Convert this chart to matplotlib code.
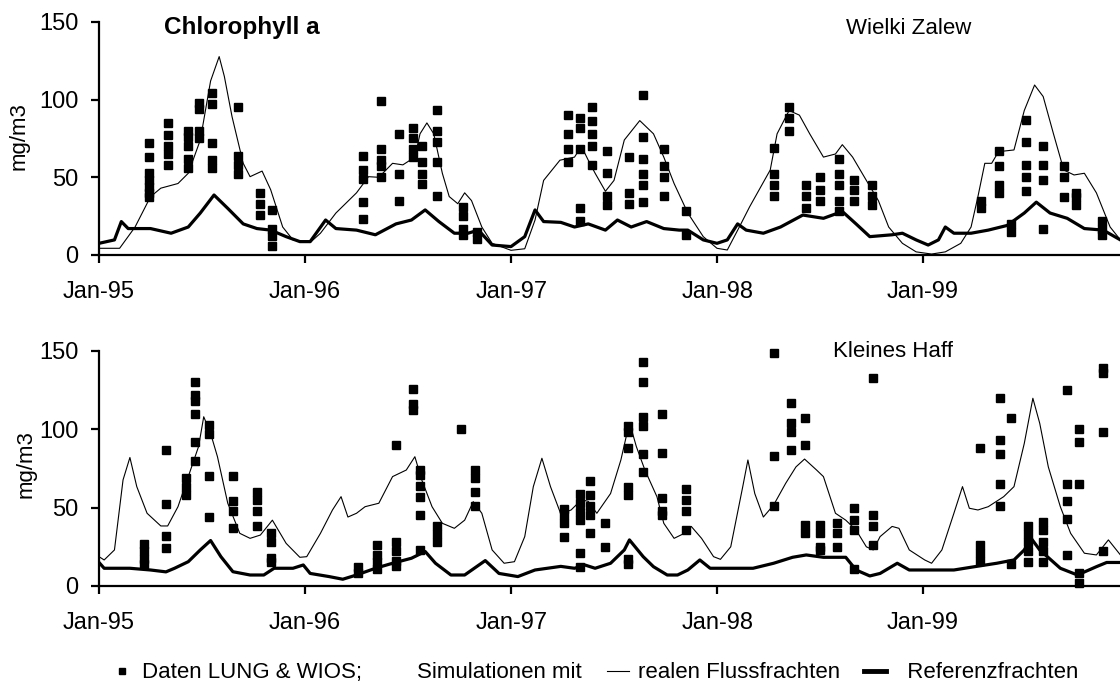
import datetime as dt
import numpy as np
import matplotlib
matplotlib.use('Agg')
import matplotlib.pyplot as plt
import matplotlib.dates as mdates
from matplotlib.lines import Line2D

plt.rcParams['font.family'] = ['Liberation Sans', 'DejaVu Sans']

# positions are months after 1 Jan 1995, values in mg/m3

# --- Wielki Zalew (top) ---
wz_real_m = [0, 1.2, 2.1, 3.0, 3.6, 4.6, 5.2, 5.9, 6.5, 7.0, 7.3, 7.75, 8.4, 8.8, 9.5, 10.0,
             10.7, 11.3, 12.3, 12.9, 13.8, 15.0, 15.7, 16.3, 17.1, 17.7, 18.4, 18.7, 19.1, 19.5,
             20.0, 20.4, 20.9, 21.3, 21.7, 22.3, 22.9, 24.0, 24.8, 25.4, 25.9, 26.85, 27.7, 28.1,
             28.5, 28.9, 29.5, 30.0, 30.6, 31.5, 32.3, 32.9, 33.5, 34.3, 35.2, 36.0, 36.6, 37.3,
             37.9, 39.1, 39.5, 40.2, 40.8, 41.4, 42.2, 42.9, 43.3, 43.9, 44.7, 45.4, 46.0, 46.8,
             47.6, 48.5, 49.3, 50.2, 50.8, 51.2, 51.6, 52.0, 52.4, 53.3, 53.9, 54.5, 55.0, 55.6,
             56.2, 56.8, 57.4, 58.1, 58.9, 59.5]
wz_real_v = [4.3, 4.3, 18, 37.5, 43, 46, 52.6, 74, 112, 127.7, 115, 89, 59, 50.4, 54, 42,
             18, 9.7, 8, 14, 27, 40, 50.4, 50, 59, 58, 63, 78, 85, 78,
             52.6, 37.6, 33, 40, 35, 18, 7.5, 3, 4, 22.5, 48, 61, 63, 70,
             61, 52.6, 41, 48, 74, 86.5, 78, 63, 46, 27, 11.8, 4.3, 3.2, 18,
             31, 54.7, 78, 93, 90, 78, 63, 65, 71, 63, 48, 35, 18, 7.5,
             2, 0.6, 2, 7.5, 18, 37.6, 59, 59, 66.5, 67.6, 93, 109.4, 102, 78,
             54.7, 51.5, 52.6, 40, 18, 9.7]

wz_ref_m = [0, 0.9, 1.3, 1.7, 3.0, 4.2, 5.2, 5.9, 6.7, 7.5, 8.4, 9.2, 10.0, 10.9, 11.7, 12.3,
            13.2, 13.8, 15.0, 16.1, 17.3, 18.2, 19.0, 19.8, 20.7, 21.5, 22.1, 22.9, 24.0, 24.8,
            25.4, 25.9, 26.9, 27.7, 28.5, 29.5, 30.2, 31.0, 31.9, 32.9, 33.8, 34.3, 35.2, 36.0,
            36.6, 37.2, 37.7, 38.7, 39.7, 41.0, 42.2, 43.3, 44.1, 44.9, 46.2, 46.8, 47.6, 48.3,
            48.9, 49.3, 49.8, 50.8, 51.8, 52.9, 53.9, 54.6, 55.4, 56.4, 57.4, 58.5, 59.5]
wz_ref_v = [7.5, 9.7, 21.5, 17, 17, 14, 18, 27, 38.6, 30, 20, 17, 16, 11.8, 8.6, 8.6,
            22.5, 17, 16, 13, 20, 22.5, 29, 21.5, 14, 14, 16, 6.4, 5.4, 11.8,
            29, 21.5, 21, 18, 20, 16, 22.5, 18, 21.5, 17, 16, 16, 9.7, 7.5,
            9.7, 20, 16, 14, 18, 25.7, 23.6, 28, 20, 11.8, 13, 14, 9.7, 6.4,
            9.7, 18, 14, 14, 16, 19, 27, 34, 27, 23.6, 17, 16, 9.7]

wz_obs_m = [2.9, 4.0, 5.2, 5.8, 6.6, 8.1, 9.4, 10.1, 15.4, 16.4, 17.5, 18.3, 18.8, 19.7, 21.2, 22.0,
            27.3, 28.0, 28.7, 29.6, 30.9, 31.7, 32.9, 34.2, 39.3, 40.2, 41.2, 42.0, 43.1, 44.0, 45.0,
            51.4, 52.4, 53.1, 54.0, 55.0, 56.2, 56.9, 58.4]
wz_obs_v = [[72, 63, 53, 48, 44, 40, 37], [85, 77, 70, 65, 58], [80, 76, 70, 62, 56],
            [98, 94, 80, 75], [104, 97, 72, 61, 56], [95, 64, 58, 52], [40, 33, 26],
            [29, 17, 12, 6], [64, 55, 49, 34, 23], [99, 68, 61, 57, 50], [78, 52, 35],
            [82, 75, 68, 63], [70, 60, 52, 46], [93, 80, 73, 60, 38], [31, 25, 17, 13], [15, 10],
            [90, 78, 68, 60], [88, 82, 68, 30, 22], [95, 86, 78, 70, 58], [67, 53, 38, 32],
            [63, 40, 33], [103, 76, 62, 52, 45, 34], [68, 57, 50, 38], [28, 13],
            [69, 52, 45, 38], [95, 88, 80], [45, 38, 30], [50, 42, 35], [62, 52, 45, 35, 28],
            [48, 42, 35], [45, 38, 32], [35, 30], [67, 57, 45, 40], [20, 15],
            [87, 73, 58, 50, 41], [70, 58, 48, 17], [57, 50, 37], [40, 37, 32], [22, 17, 13]]

# --- Kleines Haff (bottom) ---
kh_real_m = [0, 0.3, 0.9, 1.4, 1.8, 2.2, 2.8, 3.6, 4.0, 4.6, 5.2, 5.8, 6.1, 6.5, 6.9, 7.5,
             8.2, 8.8, 9.4, 10.1, 10.9, 11.7, 12.1, 12.9, 13.6, 14.1, 14.5, 15.0, 15.5, 16.3,
             17.1, 17.9, 18.4, 18.8, 19.4, 20.0, 20.7, 21.3, 21.8, 22.3, 22.9, 23.6, 24.2, 24.8,
             25.3, 25.8, 26.3, 26.9, 27.5, 28.1, 28.5, 29.0, 29.8, 30.4, 30.8, 31.0, 31.3, 31.8,
             32.5, 32.9, 33.5, 34.1, 34.5, 35.1, 35.8, 36.2, 36.8, 37.5, 37.8, 38.2, 38.7, 39.3,
             40.0, 40.6, 41.1, 41.8, 42.2, 42.9, 43.5, 44.1, 44.7, 45.1, 45.5, 46.2, 46.6, 47.2,
             48.1, 48.5, 49.1, 49.8, 50.3, 50.7, 51.2, 51.8, 52.7, 53.3, 53.9, 54.4, 54.8, 55.3,
             56.0, 56.6, 57.4, 58.1, 58.8, 59.5]
kh_real_v = [18.7, 16.6, 23, 67.7, 82, 63.4, 46.4, 38.3, 38.3, 50.6, 69.8, 89, 108, 97.4, 82.5, 52.8,
             33.6, 30.4, 32.5, 42, 27.2, 18.3, 18.7, 33.6, 48.5, 57, 44, 46.4, 50.6, 52.8,
             69.8, 74, 82.5, 67.7, 50.6, 40, 36.8, 42, 53.8, 46.4, 23, 14.5, 15.5, 31.5,
             63.4, 81.5, 63.4, 46, 48.5, 55, 54, 46.4, 59, 80.4, 99.6, 100.6, 89, 74,
             57, 40, 30.4, 33.6, 38, 30.4, 18.7, 17, 25, 63.4, 80.4, 59, 44, 51.7,
             65.5, 76, 81, 74, 69.8, 46.4, 42, 35.7, 25, 23, 31.5, 38, 36.8, 23,
             16.6, 14.5, 23, 46.4, 63.4, 49.6, 48.5, 50.6, 57, 63.4, 91, 119.8, 103.8, 76,
             50.6, 33.6, 20.9, 19.8, 29.4, 19.8]

kh_ref_m = [0, 0.3, 1.8, 3.0, 3.9, 4.4, 5.2, 5.9, 6.5, 7.1, 7.8, 8.8, 9.6, 10.2, 11.3, 11.9,
            12.3, 13.4, 14.2, 15.0, 16.1, 17.1, 18.2, 19.0, 19.6, 20.5, 21.3, 22.5, 23.3, 24.4,
            25.4, 26.9, 27.7, 28.3, 28.9, 29.8, 30.6, 30.9, 31.7, 32.3, 33.1, 33.7, 34.3, 35.0,
            35.6, 36.8, 38.1, 39.3, 40.4, 41.2, 42.2, 43.5, 44.1, 44.9, 45.5, 46.5, 47.2, 48.5,
            49.8, 51.0, 52.3, 53.3, 53.9, 54.3, 54.8, 56.0, 57.0, 58.1, 58.7, 59.5]
kh_ref_v = [15, 11.3, 11.3, 10.2, 9, 11.3, 15.5, 23, 29, 18.7, 9.1, 7, 7, 11.3, 11.3, 13.4,
            8, 6, 4.3, 7, 11.3, 14.5, 17.7, 22, 14.5, 7, 7, 16.2, 8, 6,
            10.2, 12.5, 11.3, 13.4, 11.3, 14.5, 23, 29.4, 18.7, 12.3, 7, 7, 10.2, 16.6,
            11.3, 11.3, 11.3, 14.5, 18.3, 19.8, 18.3, 18.3, 10.2, 6.4, 8, 14.5, 10.2, 10.2,
            10.2, 12.3, 14.5, 16.6, 23, 30.4, 23, 11.3, 7, 12.3, 15, 15]

kh_obs_m = [2.65, 3.9, 5.05, 5.6, 6.4, 7.8, 9.2, 10.0, 15.1, 16.2, 17.3, 18.3, 18.7, 19.7, 21.1, 21.9,
            27.1, 28.0, 28.6, 29.5, 30.8, 31.7, 32.8, 34.2, 39.3, 40.3, 41.1, 42.0, 43.0, 44.0, 45.1,
            51.3, 52.5, 53.1, 54.1, 55.0, 56.4, 57.1, 58.5]
kh_obs_v = [[27, 22, 17, 14], [87, 52, 32, 24], [69, 63, 58], [130, 122, 118, 110, 92, 80],
            [103, 97, 70, 44], [70, 54, 48, 37], [60, 55, 48, 38], [34, 28, 18, 15], [12, 8],
            [26, 20, 15, 11], [90, 28, 22, 16, 13], [126, 116, 112], [74, 71, 64, 57, 45, 23],
            [38, 33, 28], [100], [74, 69, 60, 51],
            [49, 45, 40, 31], [59, 53, 47, 42, 21, 12], [67, 58, 51, 45, 34], [40, 25],
            [102, 98, 88, 63, 58, 17, 14], [143, 130, 108, 102, 84, 73], [110, 85, 56, 48, 45],
            [62, 55, 48, 36], [149, 83, 51], [117, 104, 98, 87], [107, 90, 39, 34],
            [39, 34, 25, 23], [40, 34, 25], [50, 42, 36, 11], [133, 45, 38, 26],
            [88, 26, 21, 16], [120, 93, 84, 65, 51], [107, 14], [38, 33, 28, 22, 15],
            [41, 36, 28, 22, 15], [125, 65, 54, 43, 20], [100, 92, 65, 8, 2], [139, 136, 98, 22]]

start = mdates.date2num(dt.datetime(1995, 1, 1))


def to_x(m):
    return start + np.asarray(m, dtype=float) * 365.25 / 12


def flat(ms, vs):
    xs = [m for m, v in zip(ms, vs) for _ in v]
    ys = [y for v in vs for y in v]
    return to_x(xs), ys


fig = plt.figure(figsize=(11.2, 6.88), dpi=100)
ax1 = fig.add_axes([0.0884, 0.6294, 0.9116, 0.3387])
ax2 = fig.add_axes([0.0884, 0.1483, 0.9116, 0.3416])

panels = [
    (ax1, wz_real_m, wz_real_v, wz_ref_m, wz_ref_v, wz_obs_m, wz_obs_v),
    (ax2, kh_real_m, kh_real_v, kh_ref_m, kh_ref_v, kh_obs_m, kh_obs_v),
]
for ax, rm, rv, fm, fv, om, ov in panels:
    ax.plot(to_x(rm), rv, color='black', lw=0.8)
    ax.plot(to_x(fm), fv, color='black', lw=2.3)
    ox, oy = flat(om, ov)
    ax.plot(ox, oy, ls='none', marker='s', ms=5.4, color='black', clip_on=False)
    ax.set_xlim(start, start + (1021 / 206) * 365.25)
    ax.set_ylim(0, 150)
    ax.set_yticks([0, 50, 100, 150])
    ax.xaxis.set_major_locator(mdates.YearLocator())
    ax.xaxis.set_major_formatter(mdates.DateFormatter('%b-%y'))
    for s in ['top', 'right']:
        ax.spines[s].set_visible(False)
    for s in ['left', 'bottom']:
        ax.spines[s].set_linewidth(1.6)
    ax.tick_params(axis='x', direction='out', length=6, width=1.6, labelsize=17, pad=13)
    ax.tick_params(axis='y', direction='out', length=6, width=1.6, labelsize=17, pad=9)
    ax.set_ylabel('mg/m3', fontsize=16)

ax1.yaxis.set_label_coords(-0.068, 0.51)
ax2.yaxis.set_label_coords(-0.061, 0.52)

ax1.text(0.140, 0.975, 'Chlorophyll a', transform=ax1.transAxes, fontsize=17.5,
         fontweight='bold', ha='center', va='center')
ax1.text(0.793, 0.97, 'Wielki Zalew', transform=ax1.transAxes, fontsize=16,
         ha='center', va='center')
ax2.text(0.778, 0.996, 'Kleines Haff', transform=ax2.transAxes, fontsize=16,
         ha='center', va='center')

handles = [
    Line2D([], [], ls='none', marker='s', ms=4.3, color='black'),
    Line2D([], [], ls='none'),
    Line2D([], [], color='black', lw=0.8),
    Line2D([], [], color='black', lw=3.5),
]
labels = ['Daten LUNG & WIOS;', 'Simulationen mit', 'realen Flussfrachten', '  Referenzfrachten']
fig.legend(handles, labels, loc='center', bbox_to_anchor=(0.531, 0.022), ncol=4,
           frameon=False, fontsize=16, handlelength=1.0, handletextpad=0.4,
           columnspacing=1.1, borderpad=0)

fig.savefig('out.png', dpi=100)
